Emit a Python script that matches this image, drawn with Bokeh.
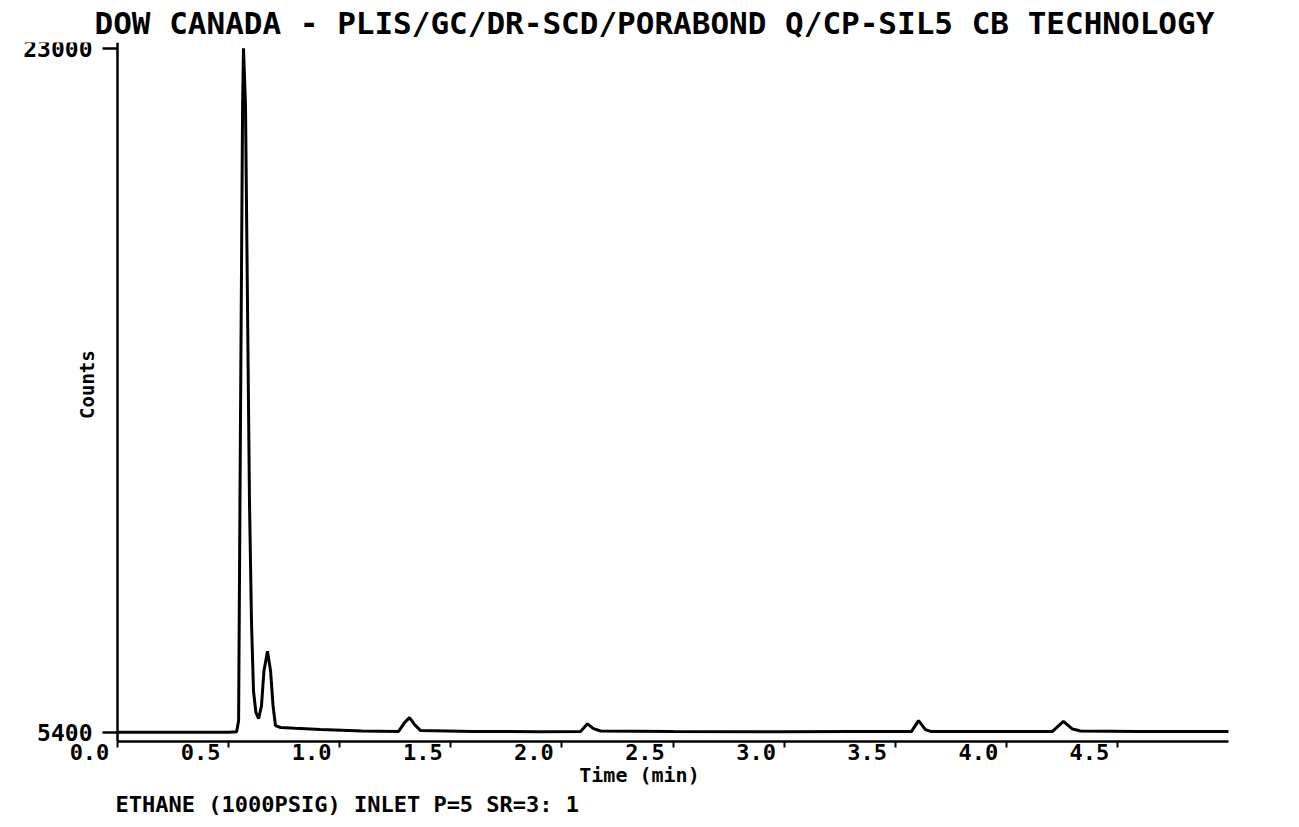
import math
from bokeh.plotting import figure
from bokeh.models import FixedTicker, Label, Title, LinearAxis, Range1d
from bokeh.embed import file_html
from bokeh.resources import INLINE

# ---- texts ----
title_text = "DOW CANADA - PLIS/GC/DR-SCD/PORABOND Q/CP-SIL5 CB TECHNOLOGY"
caption_text = "ETHANE  (1000PSIG)  INLET P=5 SR=3: 1"
x_label = "Time  (min)"
y_label = "Counts"

# ---- data ----
time_min = [0.00, 0.25, 0.50, 0.536, 0.545, 0.554, 0.563, 0.567, 0.576, 0.585,
            0.594, 0.603, 0.612, 0.623, 0.635, 0.648, 0.659, 0.675, 0.689, 0.700,
            0.711, 0.734, 0.80, 0.914, 1.10, 1.265, 1.292, 1.314, 1.337, 1.364,
            1.60, 1.90, 2.084, 2.115, 2.142, 2.174, 2.50, 3.00, 3.30, 3.573,
            3.605, 3.636, 3.659, 3.90, 4.208, 4.257, 4.298, 4.334, 4.60, 5.00]
counts = [5410, 5405, 5410, 5420, 5706, 13880, 21540, 23000, 21540, 16430,
          11330, 8260, 6470, 5910, 5760, 6090, 6980, 7490, 6980, 6090,
          5580, 5530, 5510, 5480, 5440, 5430, 5655, 5783, 5604, 5451,
          5430, 5420, 5430, 5625, 5502, 5440, 5425, 5420, 5425, 5425,
          5706, 5477, 5430, 5430, 5430, 5690, 5490, 5440, 5430, 5425]

x_ticks = [0.0, 0.5, 1.0, 1.5, 2.0, 2.5, 3.0, 3.5, 4.0, 4.5]
x_tick_labels = ["0.0", "0.5", "1.0", "1.5", "2.0", "2.5", "3.0", "3.5", "4.0", "4.5"]
y_ticks = [5400, 23000]
y_tick_labels = ["5400", "23000"]

# ---- layout / style ----
FONT = "DejaVu Sans Mono"
PX_PER_MIN = 222.2
AXIS_PX = 117                      # pixel position of time 0
T_START, T_END = 0.0, 5.0
X0 = T_START - AXIS_PX / PX_PER_MIN
X1 = T_END + 62 / PX_PER_MIN       # empty room right of the drawn axis
Y0, Y1 = 5170, 23150
LABEL_SHIFT = 28 / PX_PER_MIN      # tick labels sit left of their tick

p = figure(width=1299, height=827, x_range=Range1d(X0, X1), y_range=Range1d(Y0, Y1),
           output_backend="svg", toolbar_location=None,
           min_border_left=0, min_border_right=9,
           min_border_top=37, min_border_bottom=86)
p.background_fill_color = "white"
p.border_fill_color = "white"
p.outline_line_color = None
p.grid.visible = False

p.title.text = title_text
p.title.text_font = FONT
p.title.text_font_style = "bold"
p.title.text_font_size = "31px"
p.title.align = "left"
p.title.offset = 94
p.title.standoff = 4
p.title.text_color = "black"

# y axis placed at time 0 inside the frame
ya = p.yaxis[0]
ya.fixed_location = T_START
ya.ticker = FixedTicker(ticks=y_ticks)
ya.major_label_overrides = {t: s for t, s in zip(y_ticks, y_tick_labels)}
ya.major_tick_out = 15
ya.major_tick_in = 0
ya.minor_tick_out = 0
ya.minor_tick_in = 0
ya.axis_line_width = 2.5
ya.major_tick_line_width = 2.5
ya.major_label_text_font = FONT
ya.major_label_text_font_style = "bold"
ya.major_label_text_font_size = "23px"
ya.major_label_text_color = "black"
ya.major_label_standoff = 10

# x axis: line and tick marks only
xa = p.xaxis[0]
xa.bounds = (T_START, T_END)
xa.ticker = FixedTicker(ticks=x_ticks)
xa.major_tick_out = 6
xa.major_tick_in = 0
xa.minor_tick_out = 0
xa.minor_tick_in = 0
xa.axis_line_width = 2.5
xa.major_tick_line_width = 2
xa.major_label_text_font_size = "1px"
xa.major_label_text_color = None
xa.major_label_standoff = 0

# second x axis carrying the tick labels, drawn left of each tick
p.extra_x_ranges = {"labels": Range1d(X0 + LABEL_SHIFT, X1 + LABEL_SHIFT)}
xb = LinearAxis(x_range_name="labels", ticker=FixedTicker(ticks=x_ticks))
xb.bounds = (T_START, T_END)
xb.major_label_overrides = {t: s for t, s in zip(x_ticks, x_tick_labels)}
xb.axis_line_color = None
xb.major_tick_line_color = None
xb.minor_tick_line_color = None
xb.major_tick_out = 0
xb.major_tick_in = 0
xb.major_label_standoff = -4
xb.major_label_text_font = FONT
xb.major_label_text_font_style = "bold"
xb.major_label_text_font_size = "22px"
xb.major_label_text_color = "black"
xb.axis_label = x_label
xb.axis_label_text_font = FONT
xb.axis_label_text_font_style = "bold"
xb.axis_label_text_font_size = "20px"
xb.axis_label_text_color = "black"
xb.axis_label_standoff = 0
p.add_layout(xb, "below")

p.add_layout(Label(x=T_START - 20 / PX_PER_MIN, y=14350, text=y_label, angle=math.pi / 2,
                   text_align="center", text_baseline="bottom",
                   text_font=FONT, text_font_style="bold",
                   text_font_size="19px", text_color="black"))

cap = Title(text=caption_text, align="left", offset=115, standoff=0,
            text_font=FONT, text_font_style="bold", text_font_size="22px",
            text_color="black")
p.add_layout(cap, "below")

p.line(time_min, counts, line_width=3, line_color="black")

open("out.html", "w").write(file_html(p, INLINE))
